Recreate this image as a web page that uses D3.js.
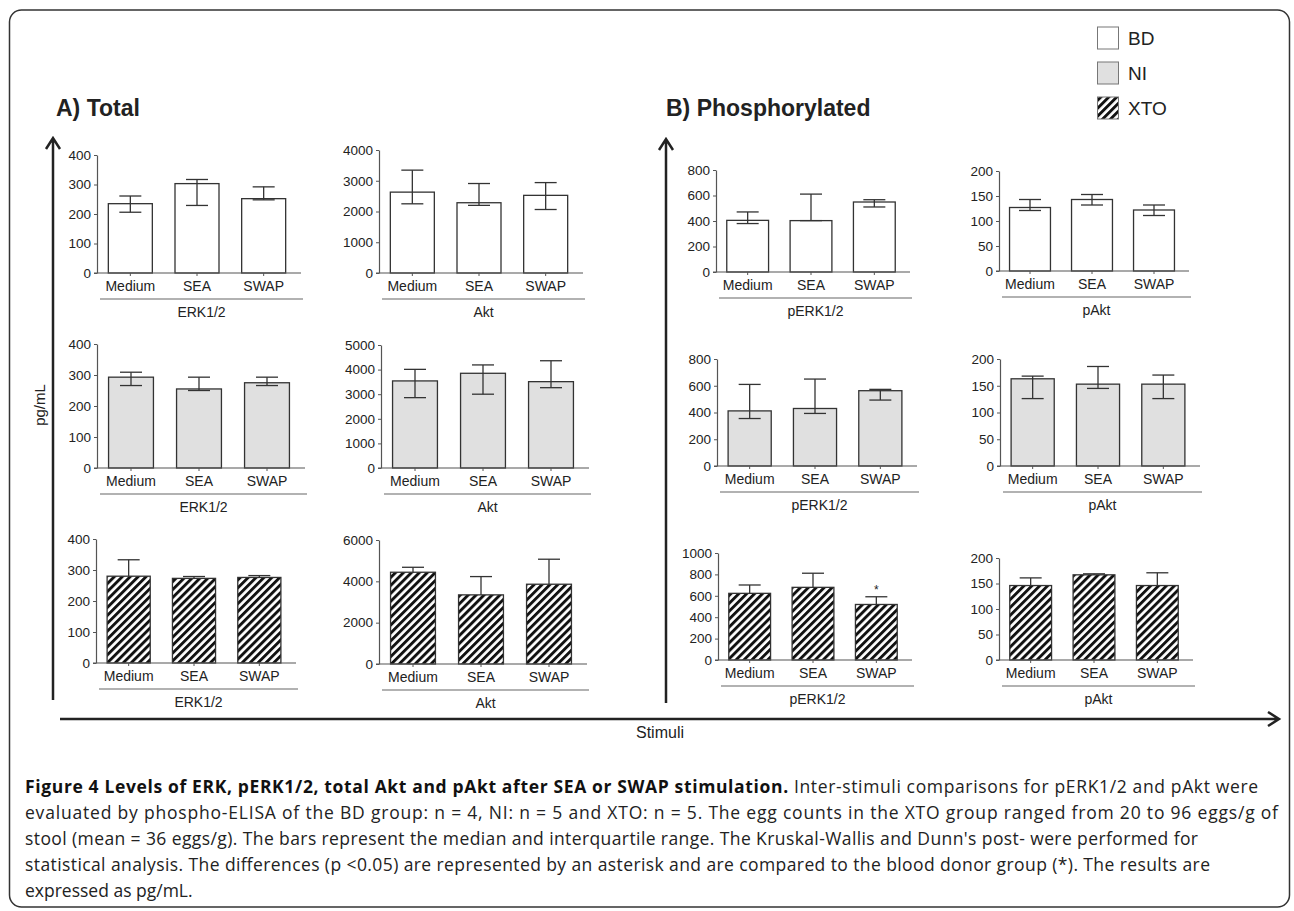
<!DOCTYPE html>
<html>
<head>
<meta charset="utf-8">
<script src="https://cdn.jsdelivr.net/npm/d3@7"></script>
<style>
  body { margin: 0; background: #fff; }
  text { font-family: "Liberation Sans", Arial, sans-serif; fill: #222; }
  .cap text { font-family: "Open Sans", "Noto Sans", sans-serif; }
</style>
</head>
<body>
<script>
//consts
const width = 1294;
const height = 911;

//data - stimuli and groups
const categories = ["Medium", "SEA", "SWAP"];
const groups = ["BD", "NI", "XTO"];

//[median, lower quartile, upper quartile] per stimulus (XTO lower end hidden by the bars)
const erkBD   = [[235, 206, 261], [303, 229, 317], [252, 248, 292]];
const aktBD   = [[2630, 2250, 3345], [2285, 2200, 2910], [2525, 2065, 2940]];
const perkBD  = [[405, 380, 471], [403, 403, 611], [549, 510, 567]];
const paktBD  = [[127, 121, 143], [143, 132, 153], [122, 111, 132]];

const erkNI   = [[293, 266, 309], [255, 250, 293], [275, 266, 293]];
const aktNI   = [[3540, 2860, 4010], [3850, 3000, 4190], [3510, 3265, 4360]];
const perkNI  = [[412, 355, 610], [430, 393, 650], [563, 493, 573]];
const paktNI  = [[163, 126, 168], [153, 145, 186], [153, 126, 170]];

const erkXTO  = [[280, null, 333], [273, null, 279], [276, null, 282]];
const aktXTO  = [[4440, null, 4680], [3345, null, 4230], [3860, null, 5070]];
const perkXTO = [[623, null, 701], [679, null, 811], [519, null, 591]];
const paktXTO = [[146, null, 161], [167, null, 169], [146, null, 171]];

//asterisk marks
const perkXTOstars = ["", "", "*"];

//tick labels
const ticksERK   = [0, 100, 200, 300, 400];
const ticksAkt1  = [0, 1000, 2000, 3000, 4000];
const ticksAkt2  = [0, 1000, 2000, 3000, 4000, 5000];
const ticksAkt3  = [0, 2000, 4000, 6000];
const ticksPERK  = [0, 200, 400, 600, 800];
const ticksPERK3 = [0, 200, 400, 600, 800, 1000];
const ticksPAkt  = [0, 50, 100, 150, 200];

const caption = [
  "Inter-stimuli comparisons for pERK1/2 and pAkt were",
  "evaluated by phospho-ELISA of the BD group: n = 4, NI: n = 5 and XTO: n = 5. The egg counts in the XTO group ranged from 20 to 96 eggs/g of",
  "stool (mean = 36 eggs/g). The bars represent the median and interquartile range. The Kruskal-Wallis and Dunn's post- were performed for",
  "statistical analysis. The differences (p <0.05) are represented by an asterisk and are compared to the blood donor group (*). The results are",
  "expressed as pg/mL."
];

//panel layout
const panels = [
  {data: erkBD,  group: "BD", ticks: ticksERK,  label: "ERK1/2",  x0: 97,  w: 200, y0: 273, y1: 155},
  {data: aktBD,  group: "BD", ticks: ticksAkt1, label: "Akt",     x0: 379, w: 200, y0: 273, y1: 150},
  {data: perkBD, group: "BD", ticks: ticksPERK, label: "pERK1/2", x0: 716, w: 190, y0: 272, y1: 170},
  {data: paktBD, group: "BD", ticks: ticksPAkt, label: "pAkt",    x0: 999, w: 186, y0: 271, y1: 171},
  {data: erkNI,  group: "NI", ticks: ticksERK,  label: "ERK1/2",  x0: 97,  w: 204, y0: 468, y1: 344},
  {data: aktNI,  group: "NI", ticks: ticksAkt2, label: "Akt",     x0: 381, w: 204, y0: 468, y1: 345},
  {data: perkNI, group: "NI", ticks: ticksPERK, label: "pERK1/2", x0: 717, w: 196, y0: 466, y1: 359},
  {data: paktNI, group: "NI", ticks: ticksPAkt, label: "pAkt",    x0: 1000, w: 196, y0: 466, y1: 359},
  {data: erkXTO, group: "XTO", ticks: ticksERK,  label: "ERK1/2",  x0: 96,  w: 196, y0: 663, y1: 539},
  {data: aktXTO, group: "XTO", ticks: ticksAkt3, label: "Akt",     x0: 379, w: 204, y0: 664, y1: 540},
  {data: perkXTO, group: "XTO", ticks: ticksPERK3, label: "pERK1/2", x0: 718, w: 190, y0: 660, y1: 553, stars: perkXTOstars},
  {data: paktXTO, group: "XTO", ticks: ticksPAkt, label: "pAkt",    x0: 999, w: 190, y0: 660, y1: 558}
];

const fills = {BD: "#ffffff", NI: "#e0e0e0", XTO: "url(#hatch)"};
const ink = "#333";

const svg = d3.select("body").append("svg")
  .attr("width", width)
  .attr("height", height);

//hatch pattern
const pat = svg.append("defs").append("pattern")
  .attr("id", "hatch")
  .attr("patternUnits", "userSpaceOnUse")
  .attr("width", 5.6).attr("height", 5.6)
  .attr("patternTransform", "rotate(45)");
pat.append("rect").attr("width", 5.6).attr("height", 5.6).attr("fill", "#fff");
pat.append("rect").attr("width", 2.9).attr("height", 5.6).attr("fill", "#111");

//frame
svg.append("rect")
  .attr("x", 9.5).attr("y", 10).attr("width", 1280).attr("height", 897)
  .attr("rx", 12)
  .attr("fill", "none").attr("stroke", ink).attr("stroke-width", 1.5);

//legend
groups.forEach((g, i) => {
  const ly = 27 + i * 35;
  svg.append("rect")
    .attr("x", 1097.5).attr("y", ly).attr("width", 21).attr("height", 22)
    .attr("fill", fills[g]).attr("stroke", "#777").attr("stroke-width", 1);
  svg.append("text")
    .attr("x", 1128).attr("y", ly + 18)
    .attr("font-size", 19)
    .text(g);
});

//section titles
svg.append("text").attr("x", 56).attr("y", 116).attr("font-size", 23).attr("font-weight", "bold").text("A) Total");
svg.append("text").attr("x", 666).attr("y", 116).attr("font-size", 23).attr("font-weight", "bold").text("B) Phosphorylated");

//big arrows
const arrows = svg.append("g").attr("stroke", "#222").attr("stroke-width", 2.5).attr("fill", "none");
arrows.append("path").attr("d", "M53,700 V138 M46,149 L53,138 L60,149");
arrows.append("path").attr("d", "M666,703 V139 M659,150 L666,139 L673,150");
arrows.append("path").attr("d", "M60,719 H1279 M1268,712 L1279,719 L1268,726");

svg.append("text")
  .attr("transform", "translate(45,405) rotate(-90)")
  .attr("text-anchor", "middle")
  .attr("font-size", 15)
  .text("pg/mL");

svg.append("text")
  .attr("x", 660).attr("y", 738)
  .attr("text-anchor", "middle")
  .attr("font-size", 16)
  .text("Stimuli");

//panels
panels.forEach(p => {
  const g = svg.append("g");

  const xScale = d3.scaleBand()
    .domain(categories)
    .range([p.x0, p.x0 + p.w])
    .paddingInner(0.34)
    .paddingOuter(0.17);

  const yScale = d3.scaleLinear()
    .domain([0, p.ticks[p.ticks.length - 1]])
    .range([p.y0, p.y1]);

  //bars
  g.selectAll("rect.bar")
    .data(p.data)
    .join("rect")
    .attr("class", "bar")
    .attr("x", (d, i) => xScale(categories[i]))
    .attr("y", d => yScale(d[0]))
    .attr("width", xScale.bandwidth())
    .attr("height", d => p.y0 - yScale(d[0]))
    .attr("fill", fills[p.group])
    .attr("stroke", ink)
    .attr("stroke-width", 1.3);

  //error bars
  const cap = 11;
  p.data.forEach((d, i) => {
    const cx = xScale(categories[i]) + xScale.bandwidth() / 2;
    const lo = d[1] === null ? d[0] : d[1];
    g.append("line")
      .attr("x1", cx).attr("x2", cx)
      .attr("y1", yScale(lo)).attr("y2", yScale(d[2]))
      .attr("stroke", ink).attr("stroke-width", 1.3);
    g.append("line")
      .attr("x1", cx - cap).attr("x2", cx + cap)
      .attr("y1", yScale(d[2])).attr("y2", yScale(d[2]))
      .attr("stroke", ink).attr("stroke-width", 1.3);
    if (d[1] !== null) {
      g.append("line")
        .attr("x1", cx - cap).attr("x2", cx + cap)
        .attr("y1", yScale(d[1])).attr("y2", yScale(d[1]))
        .attr("stroke", ink).attr("stroke-width", 1.3);
    }
    if (p.stars && p.stars[i]) {
      g.append("text")
        .attr("x", cx).attr("y", yScale(d[2]) - 3)
        .attr("text-anchor", "middle")
        .attr("font-size", 12)
        .text(p.stars[i]);
    }
  });

  //y axis
  const leftAxis = d3.axisLeft(yScale)
    .tickValues(p.ticks)
    .tickFormat(d3.format("d"))
    .tickSize(3)
    .tickSizeOuter(0)
    .tickPadding(3);
  const ya = g.append("g")
    .attr("transform", "translate(" + p.x0 + ",0)")
    .call(leftAxis);
  ya.select(".domain").attr("stroke", "#555").attr("stroke-width", 1.2);
  ya.selectAll(".tick line").attr("stroke", "#555");
  ya.selectAll("text").attr("font-size", 13.5).attr("fill", "#222")
    .attr("font-family", "Liberation Sans, Arial, sans-serif");

  //x axis
  const bottomAxis = d3.axisBottom(xScale)
    .tickSize(3)
    .tickSizeOuter(0)
    .tickPadding(5);
  const xa = g.append("g")
    .attr("transform", "translate(0," + p.y0 + ")")
    .call(bottomAxis);
  xa.select(".domain").remove();
  xa.append("line")
    .attr("x1", p.x0 - 3).attr("x2", p.x0 + p.w + 4)
    .attr("stroke", "#555").attr("stroke-width", 1.2);
  xa.selectAll(".tick line").attr("stroke", "#555");
  xa.selectAll("text").attr("font-size", 14).attr("fill", "#222")
    .attr("font-family", "Liberation Sans, Arial, sans-serif");

  //group underline and label
  g.append("line")
    .attr("x1", p.x0 + 3).attr("x2", p.x0 + p.w + 6)
    .attr("y1", p.y0 + 26).attr("y2", p.y0 + 26)
    .attr("stroke", "#666").attr("stroke-width", 1.2);
  g.append("text")
    .attr("x", p.x0 + p.w / 2 + 4.5)
    .attr("y", p.y0 + 44)
    .attr("text-anchor", "middle")
    .attr("font-size", 14)
    .text(p.label);
});

//caption
const capW = [1233, 1253, 1173, 1185, null];
const capG = svg.append("g").attr("class", "cap").attr("font-size", 17.5);
caption.forEach((line, i) => {
  const t = capG.append("text")
    .attr("x", 25)
    .attr("y", 793 + i * 26)
    .attr("fill", "#333");
  if (capW[i]) t.attr("textLength", capW[i]).attr("lengthAdjust", "spacing");
  if (i === 0) {
    t.append("tspan").attr("font-weight", "bold").attr("fill", "#111")
      .text("Figure 4 Levels of ERK, pERK1/2, total Akt and pAkt after SEA or SWAP stimulation. ");
  }
  t.append("tspan").text(line);
});
</script>
</body>
</html>
